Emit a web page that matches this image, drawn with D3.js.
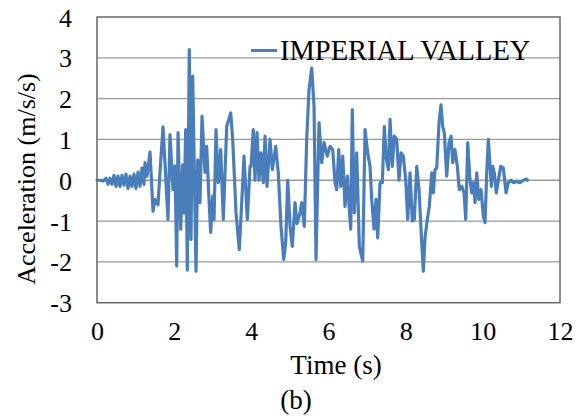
<!DOCTYPE html>
<html>
<head>
<meta charset="utf-8">
<script src="https://cdn.jsdelivr.net/npm/d3@7"></script>
<style>
  html, body { margin: 0; padding: 0; background: #fff; }
  text { font-family: "Liberation Serif", "Times New Roman", serif; fill: #000; }
</style>
</head>
<body>
<svg id="chart" width="586" height="418"></svg>
<script>
const times = [0,0.078,0.156,0.233,0.285,0.337,0.389,0.441,0.492,0.544,0.596,0.648,0.700,0.752,0.804,0.855,0.907,0.959,1.011,1.063,1.115,1.166,1.218,1.244,1.296,1.374,1.452,1.503,1.581,1.633,1.711,1.840,1.892,1.970,2.022,2.066,2.100,2.170,2.221,2.255,2.299,2.341,2.392,2.436,2.481,2.566,2.610,2.670,2.722,2.799,2.843,2.903,2.947,2.999,3.033,3.084,3.144,3.206,3.274,3.362,3.466,3.517,3.603,3.688,3.751,3.810,3.896,3.966,3.992,4.051,4.095,4.147,4.199,4.251,4.310,4.355,4.406,4.484,4.544,4.632,4.699,4.769,4.839,4.891,4.943,5.003,5.062,5.132,5.184,5.262,5.306,5.373,5.435,5.495,5.565,5.625,5.677,5.754,5.824,5.884,5.969,6.039,6.109,6.169,6.213,6.265,6.317,6.369,6.428,6.488,6.540,6.576,6.617,6.669,6.731,6.799,6.887,6.947,7.017,7.076,7.120,7.180,7.232,7.276,7.335,7.395,7.447,7.491,7.551,7.595,7.654,7.706,7.768,7.828,7.880,7.939,8.002,8.053,8.113,8.173,8.225,8.287,8.346,8.416,8.458,8.502,8.561,8.613,8.676,8.717,8.761,8.805,8.865,8.916,8.960,9.002,9.064,9.124,9.176,9.220,9.279,9.339,9.391,9.453,9.513,9.557,9.609,9.668,9.712,9.754,9.798,9.842,9.894,9.953,10.013,10.057,10.101,10.143,10.187,10.220,10.257,10.298,10.350,10.402,10.464,10.532,10.601,10.661,10.723,10.790,10.879,10.964,11.050,11.120,11.154];
const accel = [0,0,-0.02,0.05,-0.1,0.05,-0.1,0.12,-0.15,0.1,-0.15,0.12,-0.12,0.15,-0.2,0.1,-0.15,0.15,-0.2,0.2,-0.15,0.3,-0.1,0.43,0.1,0.69,-0.76,-0.47,-0.6,0.2,1.31,-0.96,1.12,-0.23,0.35,-2.1,1.17,-1.2,0.38,-0.8,1.24,-2.2,3.2,-1.45,2.55,-2.23,0.5,-0.55,1.57,0.19,0.83,-0.47,-1.28,-0.39,-0.96,1.24,-0.06,0.75,-0.96,1.32,1.65,1.0,-0.8,-1.7,-0.55,0.59,-0.96,0.34,0.34,1.24,0,1.17,0,0.67,-0.06,1.08,-0.15,1.0,0.26,0.83,0.18,-1.13,-1.94,-1.53,0,-1.13,-1.62,-0.55,-1.06,-0.8,-0.55,-1.13,1.0,2.22,2.75,1.81,-1.94,1.41,0.43,0.92,0.59,0.83,0.75,-0.06,-0.23,0.75,-0.15,0.59,-0.64,0.1,-0.72,-1.2,1.73,-0.8,0.67,-1.62,-1.98,1.24,0.67,0.34,-0.47,-1.2,-0.47,-1.41,-0.06,-0.06,1.32,0.59,0.26,1.49,0.34,1.08,1.0,0,0.67,0.59,0,-0.96,0.18,-1.0,-0.96,0.34,-0.23,-1.53,-2.23,-1.4,-0.96,-0.64,0.18,-0.31,0.26,0.3,1.41,1.85,1.32,1.16,0.1,0.92,1.08,0.43,0.75,0.34,-0.23,-0.15,-0.31,-0.96,0.92,0,-0.31,-0.06,-0.55,0.18,-0.47,-0.23,-0.88,-1.04,0.18,1.0,0.34,-0.15,0.34,0.18,-0.31,0,0.34,0.3,-0.31,-0.06,0,-0.06,-0.03,-0.06,0,0.03,0];
const xTicks = [0,2,4,6,8,10,12];
const yTicks = [-3,-2,-1,0,1,2,3,4];
const seriesName = "IMPERIAL VALLEY";
const xTitle = "Time (s)";
const yTitle = "Acceleration (m/s/s)";
const caption = "(b)";

const FONT = "'Liberation Serif', 'Times New Roman', serif";
const svg = d3.select("#chart");
const L = 97, R = 560, T = 17, B = 302.7;
const x = d3.scaleLinear().domain([0, 12]).range([L, R]);
const y = d3.scaleLinear().domain([-3, 4]).range([B, T]);

// gridlines
svg.append("g").selectAll("line").data(yTicks.filter(d => d > -3 && d < 4)).join("line")
  .attr("x1", L).attr("x2", R)
  .attr("y1", d => y(d)).attr("y2", d => y(d))
  .attr("stroke", "#999").attr("stroke-width", 1.3);

// series
const data = times.map((t, i) => [t, accel[i]]);
svg.append("path").datum(data)
  .attr("fill", "none").attr("stroke", "#4a7ebb").attr("stroke-width", 3.2)
  .attr("stroke-linejoin", "round").attr("stroke-linecap", "round")
  .attr("d", d3.line().x(d => x(d[0])).y(d => y(d[1])));

// frame
svg.append("rect").attr("x", L).attr("y", T).attr("width", R - L).attr("height", B - T)
  .attr("fill", "none").attr("stroke", "#666").attr("stroke-width", 1.5);

// y axis labels
const yAxis = d3.axisLeft(y).tickValues(yTicks).tickSize(0).tickPadding(25).tickFormat(d => String(d));
const ya = svg.append("g").attr("transform", `translate(${L},0)`).call(yAxis)
  .attr("font-family", FONT).attr("font-size", 26);
ya.select(".domain").remove();
ya.selectAll("text").attr("fill", "#000").attr("dy", "0.35em");

// x axis labels
const xAxis = d3.axisBottom(x).tickValues(xTicks).tickSize(0).tickPadding(19).tickFormat(d => String(d));
const xa = svg.append("g").attr("transform", `translate(0,${B})`).call(xAxis)
  .attr("font-family", FONT).attr("font-size", 26);
xa.select(".domain").remove();
xa.selectAll("text").attr("fill", "#000");

// titles
svg.append("text").attr("x", 336).attr("y", 374).attr("text-anchor", "middle").attr("font-size", 27).text(xTitle);
svg.append("text").attr("transform", "translate(35,179) rotate(-90)").attr("text-anchor", "middle").attr("font-size", 26).text(yTitle);
svg.append("text").attr("x", 296).attr("y", 409).attr("text-anchor", "middle").attr("font-size", 27).text(caption);

// legend
svg.append("line").attr("x1", 251).attr("x2", 277).attr("y1", 50.5).attr("y2", 50.5)
  .attr("stroke", "#4a7ebb").attr("stroke-width", 3);
svg.append("text").attr("x", 280).attr("y", 60).attr("font-size", 28.5).text(seriesName);
</script>
</body>
</html>
